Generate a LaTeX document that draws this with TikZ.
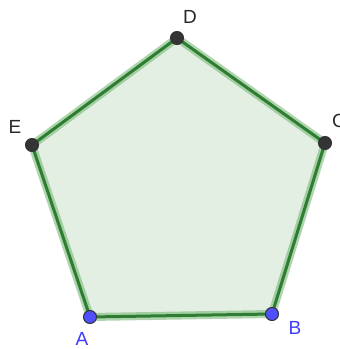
\documentclass[tikz,border=0pt]{standalone}
\usepackage{fontspec}
\setmainfont{Liberation Sans}
\usetikzlibrary{positioning}
\definecolor{edgegreen}{RGB}{46,125,50}
\definecolor{halogreen}{RGB}{120,185,120}
\definecolor{fillgreen}{RGB}{227,239,227}
\definecolor{ptblue}{RGB}{80,80,255}
\definecolor{ptgray}{RGB}{52,52,52}
\definecolor{lblblue}{RGB}{60,60,255}
\definecolor{lblgray}{RGB}{40,40,40}

\begin{document}
\begin{tikzpicture}[x=1pt,y=-1pt,
  freept/.style={circle, draw=black!80, line width=1pt, fill=ptblue, inner sep=0pt, minimum size=13pt},
  fixpt/.style={circle, draw=black!80, line width=1pt, fill=ptgray, inner sep=0pt, minimum size=13pt},
  ptlabel/.style={font=\fontsize{19}{22}\selectfont, inner sep=0pt}
]
\useasboundingbox (0,0) rectangle (340,349);
\coordinate (A) at (90,317);
\coordinate (B) at (272,314);
\coordinate (C) at (325,143);
\coordinate (D) at (177,38);
\coordinate (E) at (32,145);
% polygon with halo
\fill[fillgreen] (A) -- (B) -- (C) -- (D) -- (E) -- cycle;
\draw[halogreen, opacity=0.6, line width=8pt, line join=round] (A) -- (B) -- (C) -- (D) -- (E) -- cycle;
\draw[edgegreen, line width=3pt, line join=round] (A) -- (B) -- (C) -- (D) -- (E) -- cycle;
% points
\node[freept] (pa) at (A) {};
\node[freept] (pb) at (B) {};
\node[fixpt] (pc) at (C) {};
\node[fixpt] (pd) at (D) {};
\node[fixpt] (pe) at (E) {};
% labels
\node[ptlabel, text=lblblue] (la) at (82,339) {A};
\node[ptlabel, text=lblblue] (lb) at (295,328) {B};
\node[ptlabel, text=lblgray] (lc) at (339,121) {C};
\node[ptlabel, text=lblgray] (ld) at (190,17) {D};
\node[ptlabel, text=lblgray] (le) at (15,127) {E};
\end{tikzpicture}
\end{document}
